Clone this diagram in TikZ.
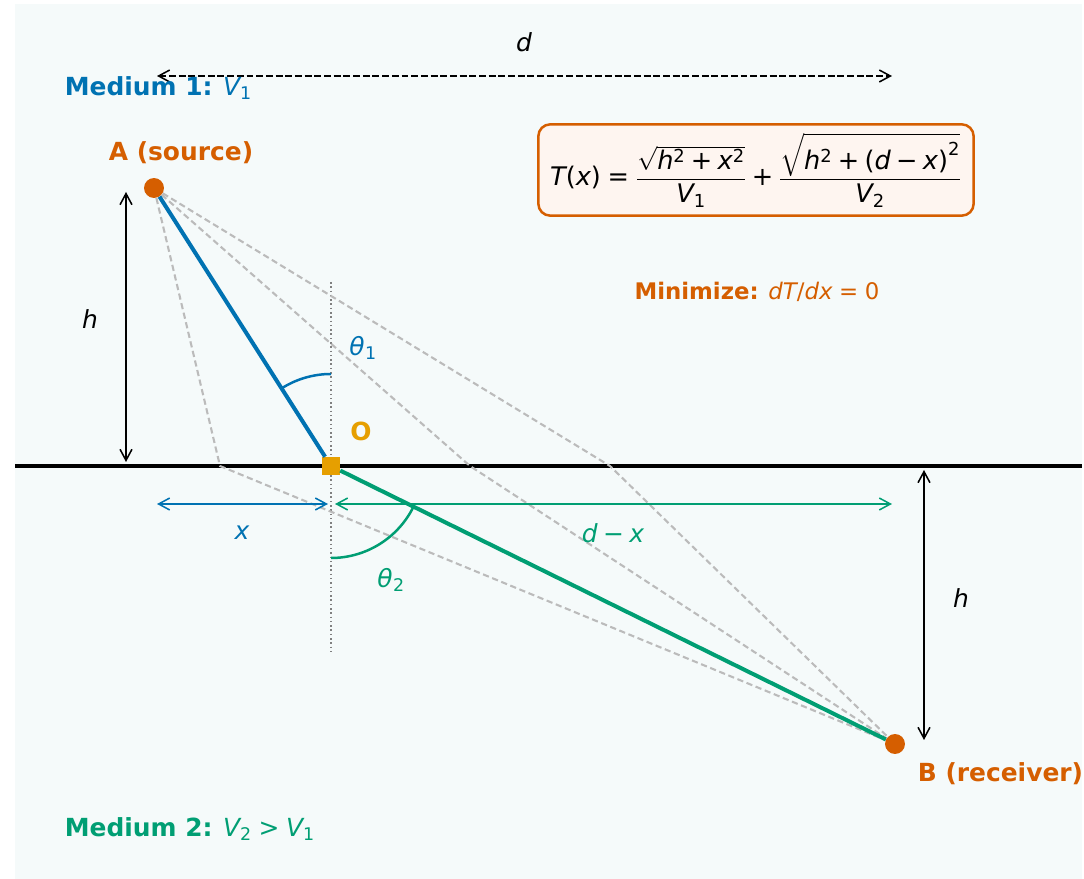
\documentclass[tikz,border=0pt]{standalone}
\usepackage{amsmath}
\usepackage{mathspec}
\setmainfont{DejaVu Sans}
\setmathsfont(Digits,Latin,Greek){DejaVu Sans}
\newfontfamily\dvsans[NFSSFamily=dvsans]{DejaVu Sans}
\DeclareSymbolFont{dvops}{TU}{dvsans}{m}{n}
\Umathcode`\+="2 \symdvops "002B
\Umathcode`\-="2 \symdvops "2212
\Umathcode`\=="3 \symdvops "003D
\Umathcode`\>="3 \symdvops "003E
\Umathcode`\(="4 \symdvops "0028
\Umathcode`\)="5 \symdvops "0029
\Umathcode`\/="0 \symdvops "002F
\usetikzlibrary{arrows.meta,positioning}
\definecolor{mediumblue}{RGB}{0,114,178}
\definecolor{mediumgreen}{RGB}{0,158,115}
\definecolor{pointorange}{RGB}{213,94,0}
\definecolor{originyellow}{RGB}{230,159,0}
\definecolor{bgtint}{RGB}{245,250,250}
\definecolor{boxtint}{RGB}{254,245,240}
\definecolor{trialgray}{RGB}{187,187,187}

\begin{document}
\begin{tikzpicture}[x=0.254mm, y=0.254mm,
    lbl/.style={font=\fontsize{18}{21}\selectfont},
    ray/.style={line width=2.9pt},
    trial/.style={trialgray, line width=1.5pt, dash pattern=on 4.5pt off 2.6pt},
    dim/.style={line width=1.1pt, {Straight Barb[length=8pt,width=8.6pt]}-{Straight Barb[length=8pt,width=8.6pt]}},
    pt/.style={circle, fill=pointorange, inner sep=0pt, minimum size=14.4pt}]
    \useasboundingbox (0,0) rectangle (1084,879);
    \fill[bgtint] (15,0) rectangle (1082,875);

    % Normal and interface
    \draw[gray, line width=1.1pt, dotted] (331,597) -- (331,227);
    \draw[line width=2.2pt] (15,413) -- (1082,413);

    % Points
    \node[pt] (A) at (154,691) {};
    \node[pt] (B) at (895,135) {};
    \node[fill=originyellow, inner sep=0pt, minimum size=13pt] (O) at (331,413) {};
    \coordinate (P1) at (220,413);
    \coordinate (P3) at (470,413);
    \coordinate (P4) at (610,413);

    % Trial paths
    \foreach \p in {P1,P3,P4}
        \draw[trial] (A) -- (\p) -- (B);

    % Refracted ray
    \draw[mediumblue, ray] (A) -- (O);
    \draw[mediumgreen, ray] (O) -- (B);

    % Angles
    \draw[mediumblue, line width=1.8pt] (O) ++(90:92) arc[start angle=90, end angle=122.48, radius=92];
    \draw[mediumgreen, line width=1.8pt] (O) ++(270:92) arc[start angle=270, end angle=333.76, radius=92];
    \node[lbl, mediumblue] (t1) at (363,531) {$\theta_1$};
    \node[lbl, mediumgreen] (t2) at (391,299) {$\theta_2$};
    \node[font=\fontsize{18}{21}\selectfont\bfseries, originyellow] (Olbl) at (361,448) {O};

    % Dimensions
    \coordinate (dL) at (157,803);
    \coordinate (dR) at (892,803);
    \draw[dim, dash pattern=on 5pt off 2pt] (dL) -- (dR);
    \node[lbl] (dlbl) at (524,837) {$d$};

    \coordinate (hL1) at (126,687);
    \coordinate (hL2) at (126,417);
    \draw[dim] (hL1) -- (hL2);
    \node[lbl] (hlbl1) at (90,560) {$h$};

    \coordinate (hR1) at (924,409);
    \coordinate (hR2) at (924,139);
    \draw[dim] (hR1) -- (hR2);
    \node[lbl] (hlbl2) at (961,281) {$h$};

    \coordinate (xL) at (157,375);
    \coordinate (xR) at (328,375);
    \draw[dim, mediumblue] (xL) -- (xR);
    \node[lbl, mediumblue] (xlbl) at (242,346) {$x$};

    \coordinate (dxL) at (335,375);
    \coordinate (dxR) at (892,375);
    \draw[dim, mediumgreen] (dxL) -- (dxR);
    \node[lbl, mediumgreen] (dxlbl) at (613,346) {$d-x$};

    % Labels
    \node[lbl, pointorange, font=\fontsize{18}{21}\selectfont\bfseries] (Albl) at (181,726) {A (source)};
    \node[lbl, pointorange, font=\fontsize{18}{21}\selectfont\bfseries, anchor=west] (Blbl) at (913,105) {B (receiver)};
    \node[lbl, mediumblue, anchor=west] (m1) at (60,791) {\textbf{Medium 1:} $V_1$};
    \node[lbl, mediumgreen, anchor=west] (m2) at (60,50) {\textbf{Medium 2:} $V_2 > V_1$};

    % Travel time
    \node[draw=pointorange, fill=boxtint, line width=1.8pt, rounded corners=8.6pt, inner sep=0pt,
          minimum width=314.6pt, minimum height=66pt, font=\fontsize{18.5}{21}\selectfont] (Tbox) at (756,709)
        {$T(x) = \dfrac{\sqrt{h^2+x^2}}{V_1} + \dfrac{\sqrt{h^2+\smash{(d-x)}^2}}{V_2}$};
    \node[pointorange, font=\fontsize{16.5}{19}\selectfont] (minlbl) at (757,587) {\textbf{Minimize:} $dT/dx = 0$};
\end{tikzpicture}
\end{document}
